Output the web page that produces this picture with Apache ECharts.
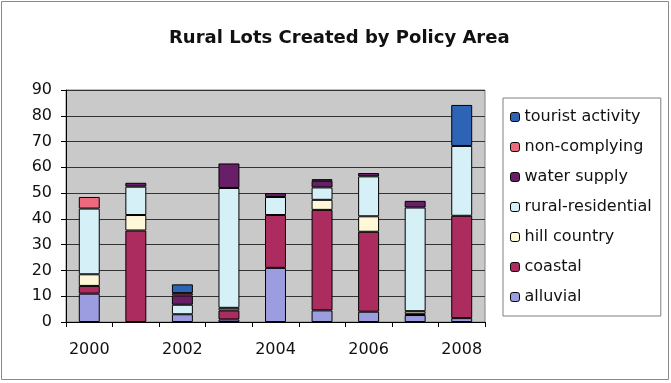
<!DOCTYPE html>
<html><head><meta charset="utf-8">
<script src="https://cdn.jsdelivr.net/npm/echarts@6/dist/echarts.min.js"></script>
<style>html,body{margin:0;padding:0;background:#fff}#c{width:671px;height:383px}</style>
</head><body><div id="c"></div>
<script>
const years = ['2000','2001','2002','2003','2004','2005','2006','2007','2008'];
const alluvial = [11, null, 3, 1, 21, 4.5, 4, 2.7, 1.5];
const coastal = [3, 35.5, null, 3.5, 20.5, 39, 31, 0.5, 39.7];
const hillCountry = [4.5, 6, null, 1, null, 3.9, 6, 1, null];
const ruralResidential = [25.5, 11, 3.7, 46.5, 7, 4.8, 15.5, 40.2, 27.1];
const waterSupply = [null, 1.5, 3.6, 9.5, 1.5, 2.6, 1.3, 2.6, null];
const nonComplying = [4.5, null, 0.9, null, null, 0.6, null, null, null];
const touristActivity = [null, null, 3.4, null, null, null, null, null, 15.9];
const yTicks = [0, 90, 10];

const seriesDefs = [
  ['alluvial', alluvial, '#9c9ce0'],
  ['coastal', coastal, '#ad2c60'],
  ['hill country', hillCountry, '#fff8d8'],
  ['rural-residential', ruralResidential, '#d6f0f8'],
  ['water supply', waterSupply, '#681f68'],
  ['non-complying', nonComplying, '#ec6a7c'],
  ['tourist activity', touristActivity, '#2e64b6']
];

const font = 'DejaVu Sans';
const chart = echarts.init(document.getElementById('c'));
chart.setOption({
  animation: false,
  textStyle: {fontFamily: font},
  title: {
    text: 'Rural Lots Created by Policy Area',
    left: 164, top: 24,
    textStyle: {fontFamily: font, fontSize: 18, fontWeight: 'bold', color: '#111'}
  },
  graphic: [{
    type: 'rect', shape: {x: 1.5, y: 1.5, width: 667, height: 378},
    style: {fill: null, stroke: '#8a8a8a', lineWidth: 1}, silent: true, z: -1
  }],
  grid: {left: 66, right: 186, top: 90, bottom: 61, show: true,
    backgroundColor: '#c9c9c9', borderColor: '#808080', borderWidth: 1},
  legend: {
    orient: 'vertical', left: 503, top: 98,
    data: seriesDefs.map(d => d[0]).reverse(),
    itemWidth: 9, itemHeight: 9, itemGap: 14,
    padding: [11, 9, 11, 7],
    borderColor: '#808080', borderWidth: 1,
    itemStyle: {borderColor: '#000', borderWidth: 1},
    textStyle: {fontFamily: font, fontSize: 16, color: '#111', lineHeight: 16}
  },
  xAxis: {
    type: 'category', data: years,
    axisLine: {lineStyle: {color: '#000'}},
    axisTick: {show: true, interval: 0, length: 5, lineStyle: {color: '#000'}},
    axisLabel: {interval: 1, margin: 20, fontFamily: font, fontSize: 16, color: '#111'}
  },
  yAxis: {
    type: 'value', min: yTicks[0], max: yTicks[1], interval: yTicks[2],
    axisLine: {show: true, lineStyle: {color: '#000'}},
    axisTick: {show: true, length: 5, lineStyle: {color: '#000'}},
    splitLine: {lineStyle: {color: '#333', width: 1}},
    axisLabel: {margin: 14, fontFamily: font, fontSize: 16, color: '#111'}
  },
  series: seriesDefs.map(d => ({
    name: d[0], type: 'bar', stack: 'total', data: d[1], barWidth: '45%',
    itemStyle: {color: d[2], borderColor: '#000', borderWidth: 1}
  }))
});
</script></body></html>
